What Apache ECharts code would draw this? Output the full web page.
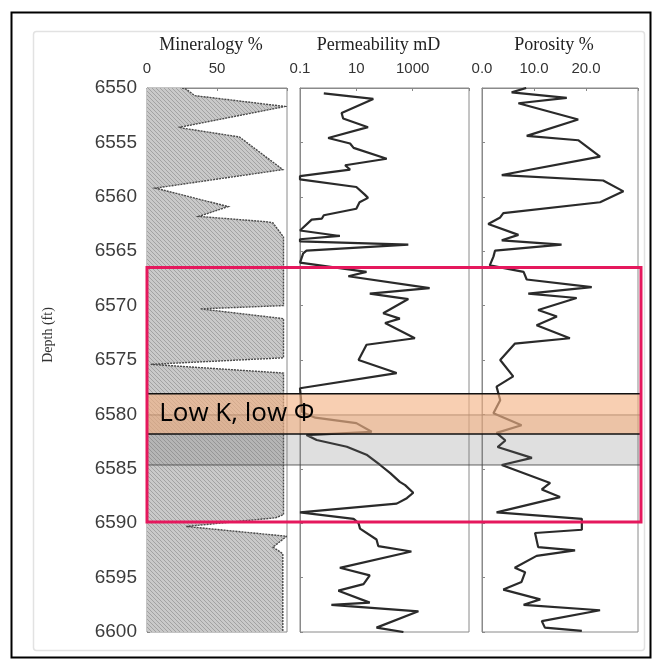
<!DOCTYPE html>
<html><head><meta charset="utf-8">
<script src="https://cdn.jsdelivr.net/npm/echarts@6/dist/echarts.min.js"></script>
<style>html,body{margin:0;padding:0;background:#fff}#c{width:655px;height:662px}</style>
</head><body><div id="c"></div>
<script>
// ---------- data ----------
const panelTitles = ['Mineralogy %', 'Permeability mD', 'Porosity %'];
const depthRange = [6550, 6600];
const depthStep = 5;
const mineralogyTicks = [0, 50];
const permTickLabels = ['0.1', '10', '1000'];
const porosityTicks = ['0.0', '10.0', '20.0'];

const mineralogyDepth = [6550.0, 6550.1, 6550.7, 6551.7, 6553.6, 6553.7, 6554.5, 6557.5, 6559.2, 6560.9, 6561.8, 6562.3, 6562.4, 6563.7, 6570.0, 6570.3, 6571.2, 6574.8, 6575.4, 6576.2, 6589.2, 6589.5, 6590.3, 6591.2, 6592.2, 6592.8, 6600.0];
const mineralogyPct   = [25, 28, 34, 98.6, 23.6, 26, 66, 97, 6, 58, 37, 86, 90, 97.5, 97.5, 38, 97.5, 97.5, 2.6, 97.5, 97.5, 92, 28, 99.8, 90, 97, 97];

const permDepth = [6550.5, 6551.0, 6552.3, 6552.8, 6553.6, 6554.6, 6555.1, 6555.5, 6556.5, 6557.1, 6557.5, 6558.1, 6558.4, 6559.1, 6559.8, 6560.1, 6560.5, 6561.1, 6561.7, 6562.0, 6562.1, 6563.1, 6563.6, 6563.9, 6564.1, 6564.4, 6564.95, 6565.2, 6566.05, 6566.9, 6567.3, 6568.4, 6568.9, 6569.4, 6570.7, 6571.2, 6571.6, 6573.0, 6573.6, 6575.0, 6576.2, 6577.6, 6579.8, 6580.3, 6580.8, 6581.6, 6581.9, 6582.35, 6582.97, 6583.7, 6584.65, 6585.4, 6586.2, 6586.5, 6587.2, 6587.7, 6588.2, 6589.0, 6589.6, 6590.0, 6590.5, 6591.5, 6592.1, 6592.6, 6594.1, 6594.8, 6595.6, 6596.2, 6597.3, 6597.5, 6598.1, 6599.6, 6600.0];
const permMD    = [0.7, 40, 3, 3.4, 26, 1, 6, 8, 120, 4, 6, 0.1, 0.1, 10, 20, 26, 13, 10, 0.7, 0.6, 0.26, 0.1, 2.6, 0.1, 0.1, 700, 0.17, 0.13, 0.1, 23, 5.2, 4000, 30, 700, 90, 350, 105, 1200, 23, 12, 270, 0.1, 0.12, 0.35, 10, 35, 0.17, 0.39, 4.6, 23, 70, 160, 350, 540, 1050, 620, 270, 0.1, 8, 12, 13.5, 52, 60, 900, 2.6, 30, 18, 2.3, 30, 1.3, 1600, 52, 470];

const porDepth = [6550.0, 6550.4, 6550.9, 6551.4, 6552.9, 6554.4, 6554.8, 6556.3, 6558.0, 6558.5, 6559.5, 6560.5, 6561.5, 6561.9, 6562.5, 6563.5, 6564.0, 6564.4, 6564.95, 6565.5, 6566.3, 6566.9, 6567.6, 6568.3, 6568.9, 6569.3, 6570.4, 6571.0, 6571.8, 6573.0, 6573.5, 6575.0, 6576.5, 6577.45, 6578.7, 6579.9, 6581.0, 6581.7, 6582.4, 6583.0, 6584.0, 6584.65, 6586.3, 6586.9, 6587.6, 6589.0, 6589.6, 6590.6, 6590.9, 6592.2, 6592.5, 6593.0, 6594.1, 6594.5, 6595.4, 6596.1, 6597.0, 6597.5, 6598.0, 6599.0, 6599.6, 6599.9];
const porPct   = [8.5, 5.7, 16.3, 7.0, 18.5, 8.6, 18.5, 22.7, 3.8, 23.3, 27.2, 22.7, 4.1, 3.5, 1.2, 7.0, 3.8, 15.3, 2.5, 2.2, 1.5, 8.0, 8.6, 21.1, 8.9, 18.2, 10.8, 14.4, 10.5, 16.9, 6.3, 3.5, 6.0, 2.8, 3.5, 2.2, 7.6, 2.8, 4.5, 3.0, 9.6, 3.8, 13.1, 11.5, 15.0, 2.8, 19.2, 19.2, 10.2, 10.8, 17.9, 10.5, 6.3, 8.3, 7.6, 4.1, 11.2, 8.0, 22.7, 11.5, 12.1, 19.2];

// annotation zones (depth, ft)
const highlightZone = [6566.5, 6589.9];
const lowKZone = [6578.1, 6581.8];
const grayZone = [6580.05, 6584.65];
const lowKText = 'Low K, low Φ';

// ---------- chart ----------
function hatchCanvas() {
  const c = document.createElement('canvas'); c.width = 4; c.height = 4;
  const g = c.getContext('2d');
  g.fillStyle = '#c9c9c9'; g.fillRect(0, 0, 4, 4);
  g.strokeStyle = '#a2a2a2'; g.lineWidth = 1;
  g.beginPath();
  g.moveTo(-1, -1); g.lineTo(5, 5);
  g.moveTo(-1, 3); g.lineTo(1, 5);
  g.moveTo(3, -1); g.lineTo(5, 1);
  g.stroke();
  return c;
}
const hatch = hatchCanvas();

const TOP = 88, H = 544;
const sans = 'Liberation Sans, Arial, sans-serif';
const serif = 'Liberation Serif, Times New Roman, serif';
const gridBorder = '#8a8a8a';

function yAx(idx, showLabels) {
  return {
    type: 'value', gridIndex: idx, min: depthRange[0], max: depthRange[1], interval: depthStep, inverse: true,
    axisLine: { show: idx < 3, lineStyle: { color: gridBorder, width: 1 } },
    axisTick: { show: idx < 3, inside: true, length: 3, lineStyle: { color: '#888' } },
    axisLabel: { show: showLabels, fontFamily: sans, fontSize: 19, color: '#3c3c3c', margin: 10, formatter: v => String(v) },
    splitLine: { show: false },
    show: idx < 3
  };
}
function xName(t) {
  return { name: t, nameLocation: 'middle', nameGap: 34,
    nameTextStyle: { fontFamily: serif, fontSize: 18, color: '#222', padding: [0, 12, 0, 0] } };
}
const xCommon = {
  position: 'top',
  axisLine: { show: true, lineStyle: { color: gridBorder, width: 1 } },
  axisTick: { show: true, inside: true, length: 3, lineStyle: { color: '#888' } },
  splitLine: { show: false }
};
const labelStyle = { fontFamily: sans, fontSize: 15, color: '#333', margin: 12, showMaxLabel: true };

const ys = yAx(0, true);
ys.name = 'Depth (ft)';
ys.nameLocation = 'middle';
ys.nameGap = 92;
ys.nameTextStyle = { fontFamily: serif, fontSize: 14, color: '#333', padding: [0, 0, 0, 50] };

const option = {
  backgroundColor: '#fff',
  animation: false,
  graphic: [
    { type: 'rect', left: 9, top: 10, shape: { width: 639, height: 645 }, style: { fill: null, stroke: '#000', lineWidth: 2 }, z: -10, silent: true },
    { type: 'rect', left: 31, top: 29, shape: { width: 611, height: 619, r: 3 }, style: { fill: null, stroke: '#e2e2e2', lineWidth: 1.5 }, z: -10, silent: true }
  ],
  grid: [
    { left: 147, width: 140, top: TOP, height: H, show: true, borderColor: gridBorder, borderWidth: 1 },
    { left: 300, width: 169, top: TOP, height: H, show: true, borderColor: gridBorder, borderWidth: 1 },
    { left: 482, width: 156, top: TOP, height: H, show: true, borderColor: gridBorder, borderWidth: 1 },
    { left: 147, width: 494, top: TOP, height: H, show: false }
  ],
  xAxis: [
    Object.assign({ type: 'value', gridIndex: 0, min: 0, max: 100, interval: 50,
      axisLabel: Object.assign({}, labelStyle, { formatter: v => mineralogyTicks.includes(v) ? String(v) : '' }) }, xCommon, xName(panelTitles[0])),
    Object.assign({ type: 'log', logBase: 10, gridIndex: 1, min: 0.1, max: 100000, interval: 2,
      axisLabel: Object.assign({}, labelStyle, { formatter: v => { const s = String(Math.pow(10, Math.round(Math.log10(v))).toPrecision(1) * 1); return permTickLabels.includes(s) ? s : ''; } }) }, xCommon, xName(panelTitles[1])),
    Object.assign({ type: 'value', gridIndex: 2, min: 0, max: 30, interval: 10,
      axisLabel: Object.assign({}, labelStyle, { formatter: v => porosityTicks.includes(v.toFixed(1)) ? v.toFixed(1) : '' }) }, xCommon, xName(panelTitles[2])),
    { type: 'value', gridIndex: 3, min: 0, max: 1, show: false }
  ],
  yAxis: [ys, yAx(1, false), yAx(2, false), yAx(3, false)],
  series: [
    {
      type: 'custom', xAxisIndex: 0, yAxisIndex: 0, silent: true, clip: true, z: 1,
      data: [[0, depthRange[0]]],
      renderItem: function (params, api) {
        if (params.dataIndex !== 0) return null;
        const pts = mineralogyDepth.map((d, i) => api.coord([mineralogyPct[i], d]));
        const poly = [api.coord([0, mineralogyDepth[0]])].concat(pts, [api.coord([0, mineralogyDepth[mineralogyDepth.length - 1]])]);
        return { type: 'group', children: [
          { type: 'polygon', shape: { points: poly }, style: { fill: { image: hatch, repeat: 'repeat' }, stroke: null } },
          { type: 'polyline', shape: { points: pts }, style: { stroke: '#4a4a4a', lineWidth: 1.4, fill: null, lineDash: [2, 1] } }
        ] };
      }
    },
    {
      type: 'line', xAxisIndex: 1, yAxisIndex: 1, symbol: 'none', silent: true, z: 2,
      data: permDepth.map((d, i) => [permMD[i], d]),
      lineStyle: { color: '#2a2a2a', width: 2.2 }
    },
    {
      type: 'line', xAxisIndex: 2, yAxisIndex: 2, symbol: 'none', silent: true, z: 2,
      data: porDepth.map((d, i) => [porPct[i], d]),
      lineStyle: { color: '#2a2a2a', width: 2.2 }
    },
    {
      type: 'line', xAxisIndex: 3, yAxisIndex: 3, data: [], z: 10, clip: false, silent: true,
      markArea: { z: 10, silent: true, itemStyle: { color: 'rgba(110,110,110,0.22)', borderColor: 'rgba(70,70,70,0.85)', borderWidth: 1 },
        data: [[{ xAxis: 0, yAxis: grayZone[0] }, { xAxis: 1, yAxis: grayZone[1] }]] }
    },
    {
      type: 'line', xAxisIndex: 3, yAxisIndex: 3, data: [], z: 11, clip: false, silent: true,
      markArea: { z: 11, silent: true, itemStyle: { color: 'rgba(244,177,131,0.62)', borderColor: '#111', borderWidth: 1.5 },
        label: { show: true, position: 'insideLeft', distance: 13, formatter: lowKText, fontFamily: 'Open Sans, Liberation Sans, sans-serif', fontSize: 26, color: '#000' },
        data: [[{ xAxis: 0, yAxis: lowKZone[0] }, { xAxis: 1, yAxis: lowKZone[1] }]] }
    },
    {
      type: 'line', xAxisIndex: 3, yAxisIndex: 3, data: [], z: 12, clip: false, silent: true,
      markArea: { z: 12, silent: true, itemStyle: { color: 'rgba(0,0,0,0)', borderColor: '#E5185D', borderWidth: 3 },
        data: [[{ xAxis: 0, yAxis: highlightZone[0] }, { xAxis: 1, yAxis: highlightZone[1] }]] }
    }
  ]
};
const chart = echarts.init(document.getElementById('c'), null, { renderer: 'canvas' });
chart.setOption(option);
</script>
</body></html>
